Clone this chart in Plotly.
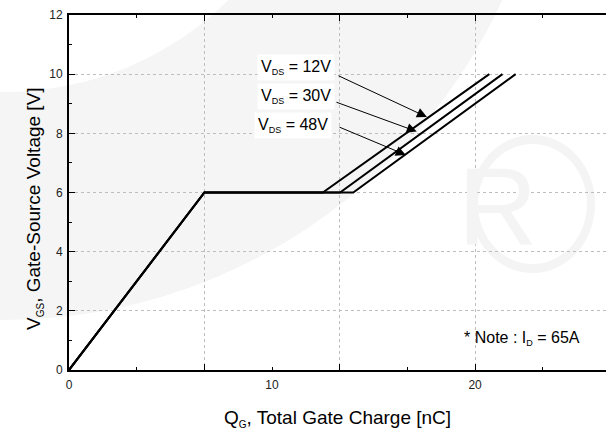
import plotly.graph_objects as go

# ---------------- data ----------------
vds_labels = ["12V", "30V", "48V"]
q_knee = 6.67          # nC, end of the initial linear rise
v_plateau = 6.0        # V, Miller plateau
q_plateau_end = [12.5, 13.35, 14.0]   # nC
q_at_10v = [20.7, 21.35, 22.0]        # nC
v_end = 10.0

# arrow tails (label side) and heads (curve side), data units
arrow_tail_q = [13.2, 13.1, 13.25]
arrow_tail_v = [9.97, 9.07, 8.23]
arrow_head_q = [17.63, 17.13, 16.59]
arrow_head_v = [8.55, 8.06, 7.27]
label_q = [11.18, 11.18, 11.03]
label_v = [10.21, 9.26, 8.25]

x_range = [0, 26.45]
y_range = [0, 12]
x_major = [0, 6.667, 13.333, 20]          # long ticks + grid
x_minor = [3.333, 10, 16.667, 23.333]     # short ticks
x_labels = [0, 10, 20]
y_major = [0, 2, 4, 6, 8, 10, 12]
y_minor = [1, 3, 5, 7, 9, 11]

note_text = "* Note : I<sub><span style='font-size:9px'>D</span></sub> = 65A"

FONT = "Liberation Sans, Arial, sans-serif"
W, H = 606, 430
L, R, T, B = 69, 606, 15, 370  # plot area in pixels

fig = go.Figure()

for i, lab in enumerate(vds_labels):
    fig.add_trace(go.Scatter(
        x=[0, q_knee, q_plateau_end[i], q_at_10v[i]],
        y=[0, v_plateau, v_plateau, v_end],
        mode="lines", line=dict(color="black", width=2),
        name="VDS = " + lab, showlegend=False, hoverinfo="skip"))

# invisible trace on the label axis
fig.add_trace(go.Scatter(x=[0], y=[0], xaxis="x2", mode="markers",
                         marker=dict(opacity=0), showlegend=False, hoverinfo="skip"))

# ---------------- watermark (decoration) ----------------
def px_to_paper(px, py):
    return (px - L) / (R - L), (B - py) / (B - T)

shapes = []
cx, cy = px_to_paper(4, -228)
for r, col in [(548, "#f5f5f5"), (320, "white")]:
    shapes.append(dict(type="circle", xref="paper", yref="paper",
                       xsizemode="pixel", ysizemode="pixel",
                       xanchor=cx, yanchor=cy, x0=-r, x1=r, y0=-r, y1=r,
                       fillcolor=col, line=dict(width=0), layer="below"))
rx, ry = px_to_paper(532.5, 204)
for (a, b), col in [((62.5, 69), "#f4f4f4"), ((54.5, 60), "white")]:
    shapes.append(dict(type="circle", xref="paper", yref="paper",
                       xsizemode="pixel", ysizemode="pixel",
                       xanchor=rx, yanchor=ry, x0=-a, x1=a, y0=-b, y1=b,
                       fillcolor=col, line=dict(width=0), layer="below"))

annotations = []
annotations.append(dict(text="R", xref="paper", yref="paper", x=rx, y=ry,
                        xshift=6, yshift=-2, showarrow=False,
                        font=dict(family=FONT, size=110, color="#f4f4f4")))

# ---------------- labels and arrows ----------------
for i, lab in enumerate(vds_labels):
    annotations.append(dict(
        x=arrow_head_q[i], y=arrow_head_v[i], ax=arrow_tail_q[i], ay=arrow_tail_v[i],
        xref="x", yref="y", axref="x", ayref="y", text="", showarrow=True,
        arrowhead=2, arrowsize=2, arrowwidth=1, arrowcolor="black"))
    annotations.append(dict(
        x=label_q[i], y=label_v[i], xref="x", yref="y", showarrow=False,
        text="V<sub><span style='font-size:9px'>DS</span></sub> = " + lab,
        bgcolor="white", borderpad=3,
        font=dict(family=FONT, size=16, color="black")))

annotations.append(dict(x=19.36, y=1.08, xref="x", yref="y", xanchor="left",
                        showarrow=False, text=note_text,
                        font=dict(family=FONT, size=16, color="black")))

# axis titles
annotations.append(dict(
    text="Q<sub><span style='font-size:10px'>G</span></sub>, Total Gate Charge [nC]",
    xref="paper", yref="paper", x=0.5, y=0, yanchor="middle", yshift=-48,
    showarrow=False, font=dict(family=FONT, size=19, color="black")))
annotations.append(dict(
    text="V<sub><span style='font-size:10px'>GS</span></sub>, Gate-Source Voltage [V]",
    xref="paper", yref="paper", x=0, xshift=-(L - 21), y=(B - 208.5) / (B - T),
    textangle=-90, showarrow=False, font=dict(family=FONT, size=19, color="black")))

tickfont = dict(family=FONT, size=12, color="#222")

fig.update_layout(
    width=W, height=H,
    margin=dict(l=L, r=W - R, t=T, b=H - B),
    paper_bgcolor="white", plot_bgcolor="rgba(0,0,0,0)",
    showlegend=False,
    shapes=shapes, annotations=annotations,
    xaxis=dict(range=x_range, tickmode="array", tickvals=x_major,
               showticklabels=False, ticks="inside", ticklen=6, tickwidth=1,
               tickcolor="black", showline=True, linecolor="black", linewidth=2,
               mirror="ticks", showgrid=True, gridcolor="#bdbdbd",
               griddash="dot", gridwidth=1, zeroline=False,
               minor=dict(tickvals=x_minor, ticks="inside", ticklen=3,
                          tickcolor="black", showgrid=False)),
    xaxis2=dict(range=x_range, overlaying="x", anchor="y", side="bottom",
                tickmode="array", tickvals=x_labels, ticks="", showline=False,
                showgrid=False, zeroline=False, tickfont=tickfont,
                ticklabelstandoff=6),
    yaxis=dict(range=y_range, tickmode="array", tickvals=y_major,
               ticks="inside", ticklen=6, tickwidth=1, tickcolor="black",
               showline=True, linecolor="black", linewidth=2,
               showgrid=True, gridcolor="#bdbdbd", griddash="dot", gridwidth=1,
               zeroline=False, tickfont=tickfont, ticklabelstandoff=2,
               minor=dict(tickvals=y_minor, ticks="inside", ticklen=3,
                          tickcolor="black", showgrid=False)),
)

fig.write_html("out.html")
